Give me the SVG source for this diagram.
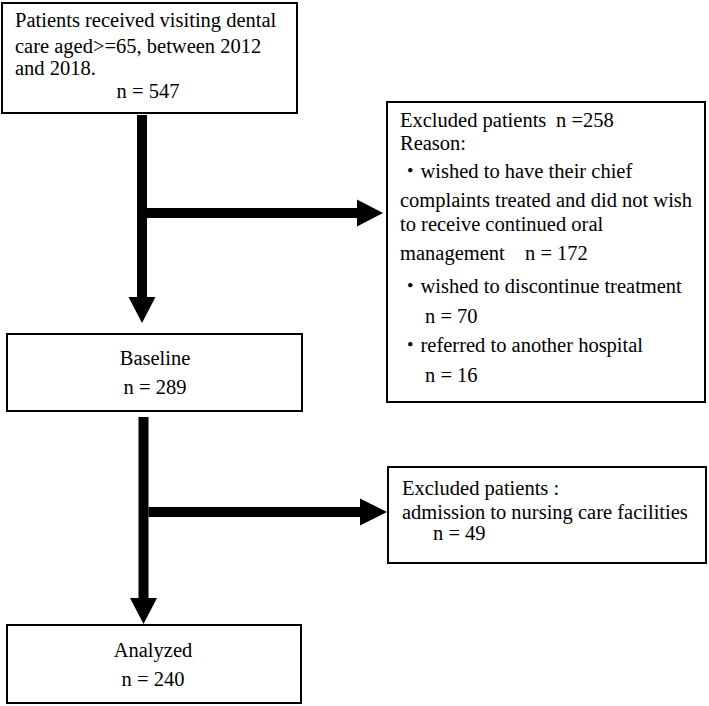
<svg xmlns="http://www.w3.org/2000/svg" width="709" height="706" viewBox="0 0 709 706">
<style>
  .box { fill: #fff; stroke: #000; stroke-width: 2; }
  .t { font-family: "Liberation Serif", serif; font-size: 20.5px; fill: #000; }
  .c { text-anchor: middle; }
  .arrow { fill: #000; stroke: none; }
</style>
<rect width="709" height="706" fill="#fff"/>
<g id="connectors">
  <polygon class="arrow" points="137,115 147,115 147,297 155.5,297 142,323 128.5,297 137,297"/>
  <polygon class="arrow" points="147,208 357,208 357,199.5 383,213 357,226.5 357,218 147,218"/>
  <polygon class="arrow" points="138.5,417 148.5,417 148.5,598 157,598 143.5,624 130,598 138.5,598"/>
  <polygon class="arrow" points="148.5,507 360,507 360,498.5 387,512 360,525.5 360,517 148.5,517"/>
</g>
<g id="node-start">
  <rect class="box" x="2" y="3" width="295" height="110"/>
  <text class="t" font-family="Liberation Serif" x="15" y="27">Patients received visiting dental</text>
  <text class="t" font-family="Liberation Serif" x="15" y="53">care aged&gt;=65, between 2012</text>
  <text class="t" font-family="Liberation Serif" x="15" y="75">and 2018.</text>
  <text class="t c" font-family="Liberation Serif" x="148" y="98">n = 547</text>
</g>
<g id="node-excluded1">
  <rect class="box" x="387" y="102" width="318" height="300"/>
  <text class="t" font-family="Liberation Serif" x="400" y="127">Excluded patients<tspan x="556">n =258</tspan></text>
  <text class="t" font-family="Liberation Serif" x="400" y="150">Reason:</text>
  <text class="t" font-family="Liberation Serif" x="400" y="178"><tspan font-family="Noto Sans CJK JP">・</tspan>wished to have their chief</text>
  <text class="t" font-family="Liberation Serif" x="400" y="207">complaints treated and did not wish</text>
  <text class="t" font-family="Liberation Serif" x="400" y="231">to receive continued oral</text>
  <text class="t" font-family="Liberation Serif" x="400" y="260">management<tspan x="525">n = 172</tspan></text>
  <text class="t" font-family="Liberation Serif" x="400" y="293"><tspan font-family="Noto Sans CJK JP">・</tspan>wished to discontinue treatment</text>
  <text class="t" font-family="Liberation Serif" x="425" y="323">n = 70</text>
  <text class="t" font-family="Liberation Serif" x="400" y="352"><tspan font-family="Noto Sans CJK JP">・</tspan>referred to another hospital</text>
  <text class="t" font-family="Liberation Serif" x="425" y="382">n = 16</text>
</g>
<g id="node-baseline">
  <rect class="box" x="7" y="334" width="295" height="77"/>
  <text class="t c" font-family="Liberation Serif" x="155" y="365">Baseline</text>
  <text class="t c" font-family="Liberation Serif" x="155" y="394">n = 289</text>
</g>
<g id="node-excluded2">
  <rect class="box" x="388" y="467" width="318" height="96"/>
  <text class="t" font-family="Liberation Serif" x="402" y="495">Excluded patients :</text>
  <text class="t" font-family="Liberation Serif" x="402" y="519">admission to nursing care facilities</text>
  <text class="t" font-family="Liberation Serif" x="433" y="540">n = 49</text>
</g>
<g id="node-analyzed">
  <rect class="box" x="7" y="625" width="294" height="78"/>
  <text class="t c" font-family="Liberation Serif" x="153" y="657">Analyzed</text>
  <text class="t c" font-family="Liberation Serif" x="153" y="686">n = 240</text>
</g>
</svg>
